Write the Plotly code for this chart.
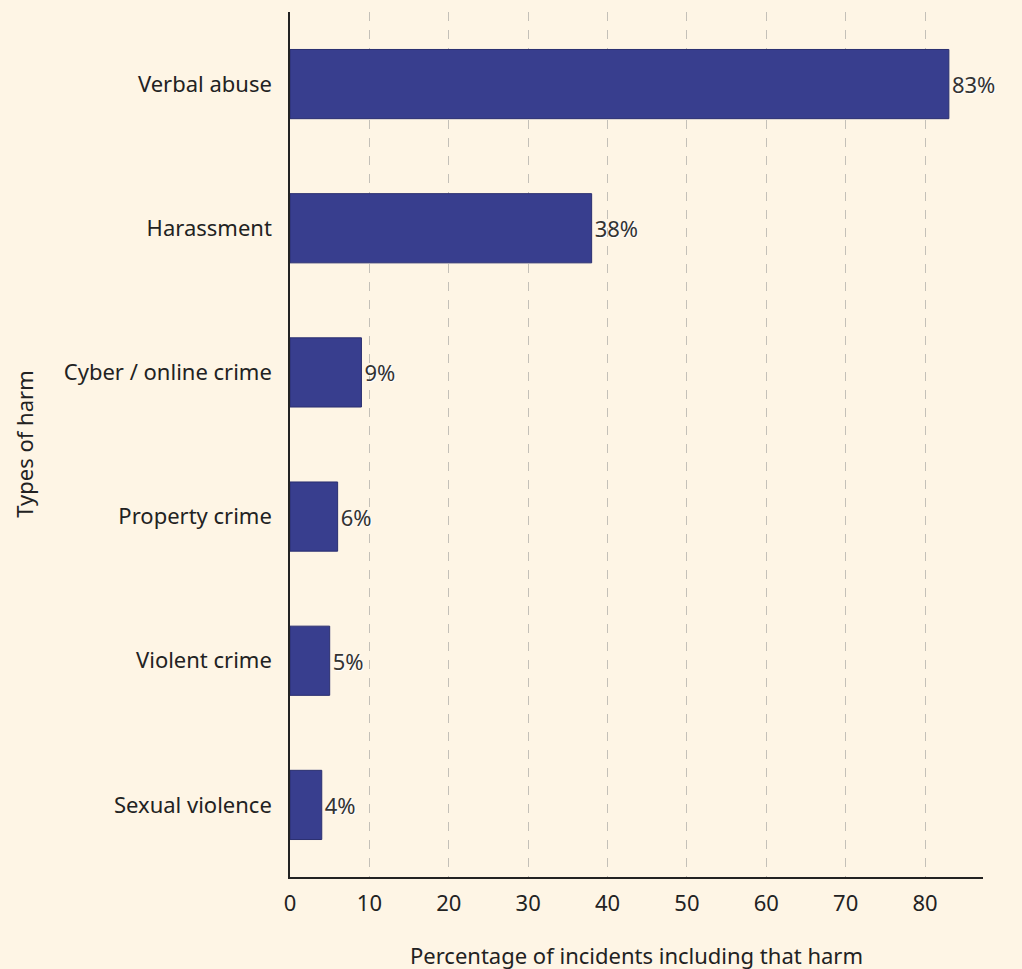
import plotly.graph_objects as go

categories = ["Verbal abuse", "Harassment", "Cyber / online crime", "Property crime", "Violent crime", "Sexual violence"]
values = [83, 38, 9, 6, 5, 4]
labels = ["83%", "38%", "9%", "6%", "5%", "4%"]

fig = go.Figure(go.Bar(
    x=values, y=categories, orientation="h",
    marker=dict(color="#383E8E", line=dict(color="#2A2F70", width=1)),
    width=0.48,
    text=labels, textposition="outside",
    textfont=dict(size=22, color="#333333", family="Noto Sans", shadow="1px 1px 1px #ffffff"),
    cliponaxis=False,
))

fig.update_layout(
    width=1022, height=969,
    margin=dict(l=290, r=39, t=12, b=92, autoexpand=False),
    paper_bgcolor="#FEF5E5", plot_bgcolor="#FEF5E5",
    font=dict(family="Noto Sans", size=21, color="#222222"),
    showlegend=False,
    bargap=0.52,
    annotations=[
        dict(text="Percentage of incidents including that harm", xref="paper", yref="paper",
             x=0.5, y=-0.09, xanchor="center", yanchor="middle", showarrow=False,
             font=dict(size=22, color="#222222")),
        dict(text="Types of harm", xref="paper", yref="paper", textangle=-90,
             x=-0.385, y=0.5, xanchor="center", yanchor="middle", showarrow=False,
             font=dict(size=22, color="#222222")),
    ],
)
fig.update_xaxes(
    range=[0, 87.3], tickvals=[0, 10, 20, 30, 40, 50, 60, 70, 80],
    showgrid=True, gridcolor="#C4C0B8", griddash="dash", gridwidth=1,
    showline=True, linecolor="#222222", linewidth=1.5,
    zeroline=False, ticks="", automargin=False, ticklabelstandoff=6,
    tickfont=dict(size=22),
)
fig.update_yaxes(
    categoryorder="array", categoryarray=categories[::-1],
    showline=True, linecolor="#222222", linewidth=1.5,
    showgrid=False, ticks="", ticklabelstandoff=12, automargin=False,
    tickfont=dict(size=22),
)

fig.write_html("out.html")
